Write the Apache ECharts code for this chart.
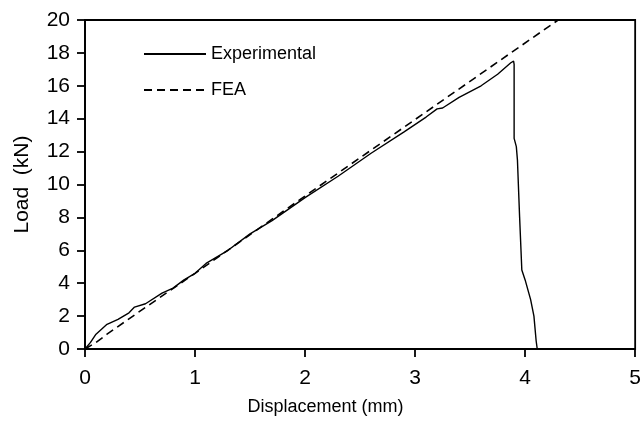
<!DOCTYPE html>
<html>
<head>
<meta charset="utf-8">
<script src="https://cdn.jsdelivr.net/npm/echarts@6/dist/echarts.min.js"></script>
<style>
  html, body { margin: 0; padding: 0; background: #fff; }
  #chart { width: 644px; height: 421px; }
</style>
</head>
<body>
<div id="chart"></div>
<script>
// displacement (mm) / load (kN)
const expDisp = [0, 0.05, 0.1, 0.15, 0.2, 0.3, 0.4, 0.45, 0.55, 0.7, 0.8, 0.9, 1.0, 1.1, 1.3, 1.5, 1.7, 2.0, 2.3, 2.6, 2.9, 3.1, 3.2, 3.25, 3.4, 3.6, 3.75, 3.87, 3.895, 3.9, 3.9, 3.92, 3.93, 3.95, 3.97, 4.0, 4.05, 4.08, 4.1, 4.11]
const expLoad = [0, 0.4, 0.9, 1.2, 1.5, 1.8, 2.2, 2.55, 2.75, 3.4, 3.7, 4.2, 4.6, 5.2, 6.0, 7.0, 7.8, 9.2, 10.5, 11.9, 13.2, 14.1, 14.6, 14.65, 15.3, 16.0, 16.7, 17.4, 17.5, 17.3, 12.8, 12.3, 11.5, 8.0, 4.8, 4.2, 3.0, 2.0, 0.5, 0]
const feaDisp = [0, 0.1, 0.2, 0.5, 1, 2, 3, 4.3]
const feaLoad = [0, 0.4, 0.9, 2.3, 4.6, 9.3, 13.95, 20]

const chart = echarts.init(document.getElementById('chart'))
const font = "'Liberation Sans', Arial, sans-serif"

const option = {
  animation: false,
  grid: { left: 85, right: 7, top: 20, bottom: 71, show: true, borderColor: '#000', borderWidth: 1.8 },
  legend: {
    orient: 'vertical',
    left: 138,
    top: 40,
    itemWidth: 62,
    itemHeight: 2,
    itemGap: 18,
    textStyle: { fontFamily: font, fontSize: 18, color: '#000' },
    data: ['Experimental', 'FEA']
  },
  xAxis: {
    type: 'value',
    min: 0, max: 5, interval: 1,
    name: 'Displacement (mm)',
    nameLocation: 'middle',
    nameGap: 49,
    nameTextStyle: { fontFamily: font, fontSize: 18, color: '#000', padding: [0, 69, 0, 0] },
    axisLine: { lineStyle: { color: '#000', width: 1.8 } },
    axisTick: { lineStyle: { color: '#000', width: 1.8 }, length: 8 },
    axisLabel: { fontFamily: font, fontSize: 21, color: '#000', margin: 19 },
    splitLine: { show: false }
  },
  yAxis: {
    type: 'value',
    min: 0, max: 20, interval: 2,
    name: 'Load  (kN)',
    nameLocation: 'middle',
    nameGap: 52,
    nameTextStyle: { fontFamily: font, fontSize: 21, color: '#000' },
    axisLine: { show: true, lineStyle: { color: '#000', width: 1.8 } },
    axisTick: { show: true, lineStyle: { color: '#000', width: 1.8 }, length: 8 },
    axisLabel: { fontFamily: font, fontSize: 21, color: '#000', margin: 15 },
    splitLine: { show: false }
  },
  series: [
    {
      name: 'Experimental',
      type: 'line',
      symbol: 'none',
      data: expDisp.map((d, i) => [d, expLoad[i]]),
      lineStyle: { color: '#000', width: 1.4 },
      itemStyle: { color: '#000' }
    },
    {
      name: 'FEA',
      type: 'line',
      symbol: 'none',
      data: feaDisp.map((d, i) => [d, feaLoad[i]]),
      lineStyle: { color: '#000', width: 1.6, type: [8, 5] },
      itemStyle: { color: '#000' }
    }
  ]
}
chart.setOption(option)
</script>
</body>
</html>
